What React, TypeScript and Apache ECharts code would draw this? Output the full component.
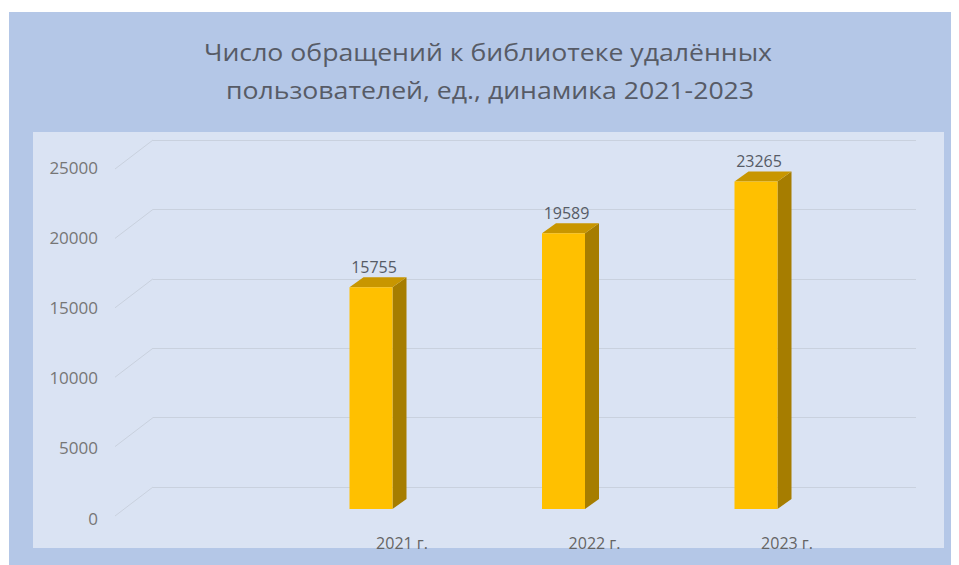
import React, { useEffect, useRef } from "react";
import * as echarts from "echarts";

const categories = ["2021 г.", "2022 г.", "2023 г."];
const values = [15755, 19589, 23265];
const yTicks = [0, 5000, 10000, 15000, 20000, 25000];
const titleLines = [
  "Число обращений к библиотеке удалённых",
  "пользователей, ед., динамика 2021-2023",
];

const FONT = "'Open Sans', 'Liberation Sans', sans-serif";
const TEXT = "#575b66";
const GRID_LINE = "#c9d1de";

export default function App() {
  const ref = useRef<HTMLDivElement>(null);

  useEffect(() => {
    document.body.style.margin = "0";
    const chart = echarts.init(ref.current as HTMLDivElement, null, { renderer: "svg" });
    const yMin = yTicks[0];
    const yMax = yTicks[yTicks.length - 1];
    const yStep = yTicks[1] - yTicks[0];

    const option = {
      animation: false,
      backgroundColor: "#ffffff",
      graphic: {
        elements: [
          { type: "rect", z: -10, shape: { x: 9, y: 12, width: 942, height: 553 }, style: { fill: "#b4c7e7" } },
          { type: "rect", z: -9, shape: { x: 33, y: 132, width: 911, height: 416 }, style: { fill: "#dae3f3" } },
          {
            type: "text",
            x: 488,
            y: 52,
            scaleX: 1.11,
            style: { text: titleLines[0], fontSize: 24, fontFamily: FONT, fill: TEXT, align: "center", verticalAlign: "middle" },
          },
          {
            type: "text",
            x: 490,
            y: 90,
            scaleX: 1.11,
            style: { text: titleLines[1], fontSize: 24, fontFamily: FONT, fill: TEXT, align: "center", verticalAlign: "middle" },
          },
        ],
      },
      grid: [
        { left: 274.75, right: 106.75, top: 157, bottom: 56 },
        { left: 153, right: 43, top: 140, bottom: 78 },
        { left: 110, right: 43, top: 167, bottom: 47 },
        { left: 305.75, right: 75.75, top: 157, bottom: 35 },
      ],
      xAxis: [
        { gridIndex: 0, type: "category", data: categories, show: false },
        { gridIndex: 1, type: "value", min: 0, max: 1, show: false },
        { gridIndex: 2, type: "value", min: 0, max: 1, show: false },
        {
          gridIndex: 3,
          type: "category",
          data: categories,
          axisLine: { show: false },
          axisTick: { show: false },
          splitLine: { show: false },
          axisLabel: { margin: 5, fontSize: 16, color: "#646464", fontFamily: FONT },
        },
      ],
      yAxis: [
        { gridIndex: 0, type: "value", min: yMin, max: yMax, interval: yStep, show: false },
        {
          gridIndex: 1,
          type: "value",
          min: yMin,
          max: yMax,
          interval: yStep,
          axisLine: { show: false },
          axisTick: { show: false },
          axisLabel: { show: false },
          splitLine: { show: true, lineStyle: { color: GRID_LINE, width: 1.2 } },
        },
        {
          gridIndex: 2,
          type: "value",
          min: yMin,
          max: yMax,
          interval: yStep,
          axisLine: { show: false },
          axisTick: { show: false },
          splitLine: { show: false },
          axisLabel: {
            margin: 12,
            fontSize: 17,
            color: "#767676",
            fontFamily: FONT,
            formatter: (v: number) => String(v),
          },
        },
        { gridIndex: 3, type: "value", min: 0, max: 1, show: false },
      ],
      series: [
        {
          type: "custom",
          xAxisIndex: 1,
          yAxisIndex: 1,
          data: yTicks.map((v) => [0, v]),
          z: 1,
          renderItem: (params: any, api: any) => {
            const p = api.coord([0, api.value(1)]);
            return {
              type: "line",
              shape: { x1: p[0] - 38, y1: p[1] + 29, x2: p[0], y2: p[1] },
              style: { stroke: GRID_LINE, lineWidth: 1 },
            };
          },
        },
        {
          type: "custom",
          xAxisIndex: 0,
          yAxisIndex: 0,
          data: values.map((v, i) => [i, v]),
          z: 5,
          renderItem: (params: any, api: any) => {
            const idx = api.value(0);
            const val = api.value(1);
            const top = api.coord([idx, val]);
            const base = api.coord([idx, 0]);
            const w = 43;
            const dx = 14;
            const dy = 10;
            const x0 = top[0] - w / 2;
            const x1 = top[0] + w / 2;
            return {
              type: "group",
              children: [
                {
                  type: "polygon",
                  shape: { points: [[x1, top[1]], [x1 + dx, top[1] - dy], [x1 + dx, base[1] - dy], [x1, base[1]]] },
                  style: { fill: "#a67d00" },
                },
                {
                  type: "polygon",
                  shape: { points: [[x0, top[1]], [x0 + dx, top[1] - dy], [x1 + dx, top[1] - dy], [x1, top[1]]] },
                  style: { fill: "#c89600" },
                },
                {
                  type: "rect",
                  shape: { x: x0, y: top[1], width: w, height: base[1] - top[1] },
                  style: { fill: "#ffc000" },
                },
                {
                  type: "text",
                  style: {
                    text: String(val),
                    x: top[0] + 3,
                    y: top[1] - 20,
                    align: "center",
                    verticalAlign: "middle",
                    fontSize: 16,
                    fontFamily: FONT,
                    fill: "#565b66",
                  },
                },
              ],
            };
          },
        },
      ],
    };

    chart.setOption(option as any);
    return () => chart.dispose();
  }, []);

  return <div ref={ref} style={{ width: 959, height: 565 }} />;
}
